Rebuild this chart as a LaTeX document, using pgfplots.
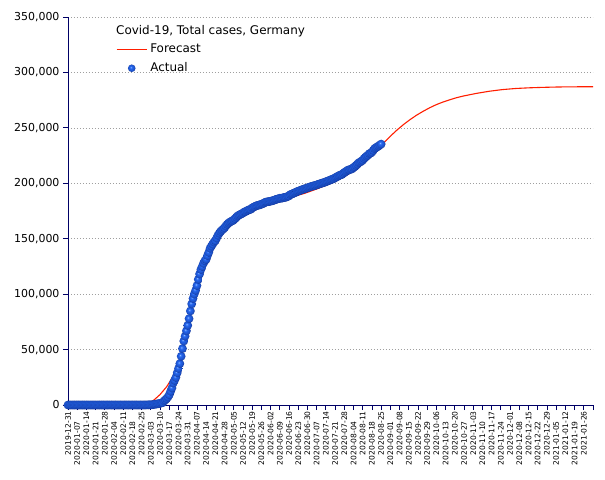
\documentclass[border=0pt]{standalone}
\usepackage{pgfplots}
\pgfplotsset{compat=1.18}
\usepackage{fontspec}
\setmainfont{DejaVu Sans}
\definecolor{axisblue}{RGB}{0,0,102}
\definecolor{fcred}{RGB}{255,30,0}
\definecolor{ballblue}{RGB}{35,100,240}
\definecolor{ballhi}{RGB}{150,195,255}
\definecolor{balldark}{RGB}{10,30,120}
\pgfdeclareradialshading{myballshade}{\pgfqpoint{-7bp}{7bp}}{color(0bp)=(ballhi); color(7bp)=(ballblue); color(20bp)=(ballblue!85!black); color(30bp)=(balldark); color(50bp)=(balldark)}
\pgfdeclareplotmark{myball}{\pgfpathcircle{\pgfpointorigin}{\pgfplotmarksize}\pgfshadepath{myballshade}{0}\pgfusepath{}}
\newcommand{\lo}[1]{#1\hspace*{10bp}}
\pgfplotsset{
  lineleg/.style={legend image code/.code={\draw[##1] (0bp,0bp) -- (30bp,0bp);}},
  markleg/.style={legend image code/.code={\draw[mark repeat=2, mark phase=2, ##1, mark size=3.8bp] plot coordinates {(0bp,0bp) (15bp,0bp) (30bp,0bp)};}},
}
\begin{document}
\begin{tikzpicture}
\useasboundingbox (-68bp,-75bp) rectangle (537bp,405bp);
\begin{axis}[
  at={(0,0)}, anchor=south west,
  scale only axis, width=525bp, height=388bp,
  xmin=0, xmax=399, ymin=0, ymax=350000,
  clip=false,
  axis lines*=left,
  axis line style={draw=axisblue, line width=0.8bp},
  tick style={draw=axisblue, line width=0.8bp},
  tick align=outside,
  major tick length=5bp,
  ymajorgrids,
  grid style={draw=gray!75, dash pattern=on 1.5bp off 1.5bp, line width=0.5bp},
  xtick={0,7,...,399},
  xticklabels={2019-12-31,\lo{2020-01-07},2020-01-14,\lo{2020-01-21},2020-01-28,\lo{2020-02-04},2020-02-11,\lo{2020-02-18},2020-02-25,\lo{2020-03-03},2020-03-10,\lo{2020-03-17},2020-03-24,\lo{2020-03-31},2020-04-07,\lo{2020-04-14},2020-04-21,\lo{2020-04-28},2020-05-05,\lo{2020-05-12},2020-05-19,\lo{2020-05-26},2020-06-02,\lo{2020-06-09},2020-06-16,\lo{2020-06-23},2020-06-30,\lo{2020-07-07},2020-07-14,\lo{2020-07-21},2020-07-28,\lo{2020-08-04},2020-08-11,\lo{2020-08-18},2020-08-25,\lo{2020-09-01},2020-09-08,\lo{2020-09-15},2020-09-22,\lo{2020-09-29},2020-10-06,\lo{2020-10-13},2020-10-20,\lo{2020-10-27},2020-11-03,\lo{2020-11-10},2020-11-17,\lo{2020-11-24},2020-12-01,\lo{2020-12-08},2020-12-15,\lo{2020-12-22},2020-12-29,\lo{2021-01-05},2021-01-12,\lo{2021-01-19},2021-01-26,{}},
  xticklabel style={rotate=90, anchor=east, font=\fontsize{7.6}{8}\selectfont, inner sep=1bp},
  ytick={0,50000,...,350000},
  scaled y ticks=false,
  yticklabel style={font=\fontsize{11}{12}\selectfont, /pgf/number format/.cd, fixed, 1000 sep={,}, assume math mode=true},
  /pgf/number format/assume math mode=true,
  legend style={at={(axis description cs:0.0914,0.938)}, anchor=north west, draw=none, fill=none, inner sep=0pt, row sep=3bp,
    font=\fontsize{12}{14}\selectfont, nodes={inner ysep=2bp, inner xsep=3bp, text height=9bp, text depth=3bp}},
  legend cell align=left,
]
\addplot[color=fcred, line width=1.1bp, mark=none, lineleg]
  coordinates {
(0,0) (20,0) (40,0) (50,50) (55,200) (58,500) (60,900) (62,1800) (65,4200) (68,7300)
(70,9500) (75,16500) (80,26000) (83,33000) (85,39000) (88,52000) (90,64000) (93,81000)
(95,93000) (98,107000) (100,116500) (103,127000) (105,133500) (108,141500) (110,146500)
(113,152500) (115,156500) (118,161000) (120,164000) (123,167700) (125,169800) (128,172500)
(130,174000) (135,177000) (140,179300) (145,181000) (150,182500) (160,185000) (170,187600)
(180,191000) (190,195300) (200,200300) (210,206000) (220,213500) (225,218500) (230,224000)
(235,230000) (238,234000) (240,236500) (245,242500) (250,248000) (255,253000) (260,257500)
(265,261500) (270,265000) (275,268200) (280,271000) (285,273300) (290,275300) (295,277100)
(300,278600) (310,281000) (320,283000) (330,284500) (340,285500) (350,286100) (360,286500)
(370,286800) (380,287000) (399,287100)
};
\addlegendentry{Forecast}
\addplot[only marks, mark=myball, mark size=4.4bp, markleg]
  coordinates {
(0,0) (1,0) (2,0) (3,0) (4,0) (5,0) (6,0) (7,0) (8,0) (9,0) (10,0) (11,0) (12,0) (13,0)
(14,0) (15,0) (16,0) (17,0) (18,0) (19,0) (20,0) (21,0) (22,0) (23,0) (24,0) (25,0) (26,0)
(27,1) (28,4) (29,4) (30,4) (31,5) (32,8) (33,10) (34,12) (35,12) (36,12) (37,12) (38,13)
(39,13) (40,14) (41,14) (42,16) (43,16) (44,16) (45,16) (46,16) (47,16) (48,16) (49,16)
(50,16) (51,16) (52,16) (53,16) (54,16) (55,16) (56,17) (57,27) (58,46) (59,48) (60,79)
(61,130) (62,159) (63,196) (64,262) (65,482) (66,670) (67,799) (68,1040) (69,1176) (70,1457)
(71,1908) (72,2078) (73,3675) (74,4585) (75,5795) (76,7272) (77,9257) (78,12327) (79,15320)
(80,19848) (81,22213) (82,24873) (83,29056) (84,32986) (85,37323) (86,43938) (87,50871)
(88,57695) (89,62095) (90,66885) (91,71808) (92,77872) (93,84794) (94,91159) (95,96092)
(96,100123) (97,103374) (98,107663) (99,113296) (100,118181) (101,122171) (102,124908)
(103,127854) (104,130072) (105,131359) (106,134753) (107,137698) (108,141397) (109,143342)
(110,145184) (111,147065) (112,148291) (113,150648) (114,153129) (115,154999) (116,156513)
(117,157770) (118,158758) (119,159912) (120,161539) (121,163009) (122,164077) (123,164967)
(124,165664) (125,166152) (126,167007) (127,168162) (128,169430) (129,170588) (130,171324)
(131,171879) (132,172576) (133,173171) (134,174098) (135,174478) (136,175233) (137,175752)
(138,176369) (139,176551) (140,177778) (141,178473) (142,179021) (143,179710) (144,179986)
(145,180328) (146,180600) (147,181200) (148,181524) (149,182196) (150,182922) (151,183189)
(152,183410) (153,183594) (154,183879) (155,184121) (156,184472) (157,184924) (158,185450)
(159,185750) (160,186109) (161,186506) (162,186522) (163,186691) (164,187226) (165,187267)
(166,187518) (167,188252) (168,188604) (169,189817) (170,190299) (171,190670) (172,191272)
(173,191768) (174,192480) (175,192871) (176,193371) (177,193760) (178,194259) (179,194725)
(180,195042) (181,195418) (182,195893) (183,196370) (184,196780) (185,197198) (186,197523)
(187,197779) (188,198064) (189,198556) (190,198963) (191,199375) (192,199726) (193,200180)
(194,200456) (195,200890) (196,201372) (197,201823) (198,202345) (199,202799) (200,203325)
(201,203717) (202,204183) (203,204964) (204,205623) (205,206242) (206,206926) (207,207422)
(208,207828) (209,208698) (210,209653) (211,210402) (212,211281) (213,212022) (214,212111)
(215,212828) (216,213067) (217,214214) (218,215039) (219,216196) (220,217293) (221,218519)
(222,219130) (223,219964) (224,220859) (225,222281) (226,223453) (227,224488) (228,225404)
(229,226700) (230,227178) (231,228120) (232,229706) (233,231292) (234,232082) (235,232864)
(236,233575) (237,234494) (238,235353)
};
\addlegendentry{Actual}
\node[anchor=west, inner sep=0pt, font=\fontsize{12}{14}\selectfont] at (axis description cs:0.0914,0.964) {Covid-19, Total cases, Germany};
\end{axis}
\end{tikzpicture}
\end{document}
